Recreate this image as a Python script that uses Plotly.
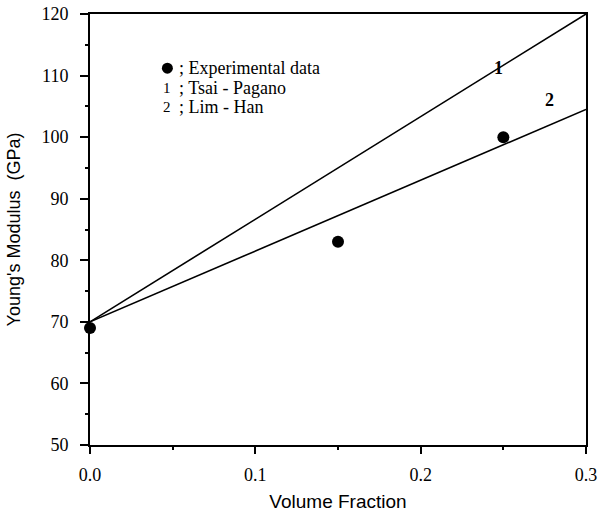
import plotly.graph_objects as go

# Data
exp_x = [0.0, 0.15, 0.25]
exp_y = [69.0, 83.0, 100.0]
tsai_x = [0.0, 0.3]
tsai_y = [70.0, 120.0]
lim_x = [0.0, 0.3]
lim_y = [70.0, 104.5]
x_ticks = [0.0, 0.1, 0.2, 0.3]
x_tick_labels = ["0.0", "0.1", "0.2", "0.3"]
y_ticks = [50, 60, 70, 80, 90, 100, 110, 120]

fig = go.Figure()
fig.add_trace(go.Scatter(x=tsai_x, y=tsai_y, mode="lines",
                         line=dict(color="black", width=1.6), showlegend=False, cliponaxis=False))
fig.add_trace(go.Scatter(x=lim_x, y=lim_y, mode="lines",
                         line=dict(color="black", width=1.6), showlegend=False, cliponaxis=False))
fig.add_trace(go.Scatter(x=exp_x, y=exp_y, mode="markers",
                         marker=dict(color="black", size=12), showlegend=False, cliponaxis=False))

serif = "Liberation Serif, Times New Roman, serif"
sans = "Liberation Sans, Arial, sans-serif"

# curve labels
fig.add_annotation(x=0.247, y=111.2, text="<b>1</b>", showarrow=False,
                   font=dict(family=serif, size=18, color="black"))
fig.add_annotation(x=0.278, y=106.0, text="<b>2</b>", showarrow=False,
                   font=dict(family=serif, size=18, color="black"))

# legend (drawn as text)
fig.add_trace(go.Scatter(x=[0.0468], y=[111.2], mode="markers",
                         marker=dict(color="black", size=11), showlegend=False))
leg_rows = [("1", "; Tsai - Pagano", 108.0), ("2", "; Lim - Han", 104.9)]
fig.add_annotation(x=0.0525, y=111.2, text="; Experimental data", showarrow=False,
                   xanchor="left", font=dict(family=serif, size=18, color="black"))
for sym, lab, yy in leg_rows:
    fig.add_annotation(x=0.0468, y=yy, text=sym, showarrow=False,
                       font=dict(family=serif, size=15, color="black"))
    fig.add_annotation(x=0.0525, y=yy, text=lab, showarrow=False,
                       xanchor="left", font=dict(family=serif, size=18, color="black"))

fig.update_layout(
    width=601, height=512,
    margin=dict(l=90, r=15, t=14, b=67),
    paper_bgcolor="white", plot_bgcolor="white",
    xaxis=dict(range=[0, 0.3], tickvals=x_ticks, ticktext=x_tick_labels, automargin=False,
               showgrid=False, zeroline=False, showline=True, linecolor="black", linewidth=2,
               mirror=True, ticks="outside", ticklen=7, tickwidth=1.5, tickcolor="black",
               minor=dict(ticks="outside", ticklen=3, tickwidth=1.5, tickcolor="black", dtick=0.05),
               tickfont=dict(family=serif, size=18, color="black"), ticklabelstandoff=5,
               title=dict(text="Volume Fraction", font=dict(family=sans, size=19, color="black"), standoff=12)),
    yaxis=dict(range=[50, 120], tickvals=y_ticks, automargin=False,
               showgrid=False, zeroline=False, showline=True, linecolor="black", linewidth=2,
               mirror=True, ticks="outside", ticklen=8, tickwidth=1.5, tickcolor="black",
               minor=dict(ticks="outside", ticklen=3, tickwidth=1.5, tickcolor="black", dtick=5),
               tickfont=dict(family=serif, size=18, color="black"), ticklabelstandoff=8,
               title=dict(text="Young's Modulus  (GPa)", font=dict(family=sans, size=18, color="black"), standoff=16)),
)

fig.write_html("out.html")
